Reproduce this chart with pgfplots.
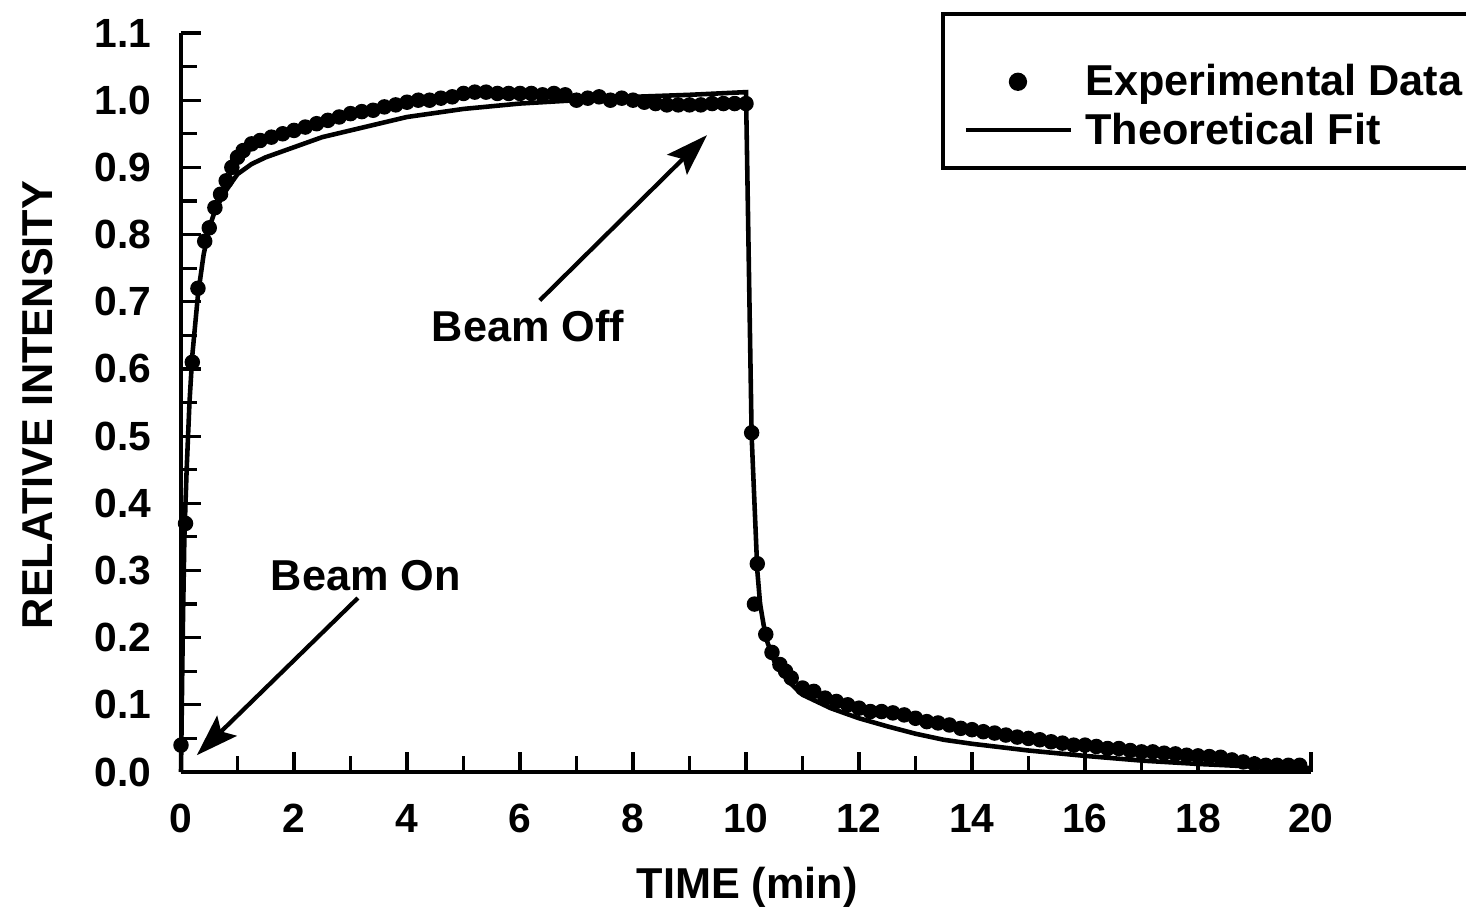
\documentclass[border=0pt]{standalone}
\usepackage{fontspec}
\setmainfont{Liberation Sans}
\usepackage{pgfplots}
\pgfplotsset{compat=1.18}
\usetikzlibrary{arrows.meta}
\newcommand{\lblfont}{\fontsize{12.3}{14}\selectfont\bfseries}
\newcommand{\tckfont}{\fontsize{11.6}{13}\selectfont\bfseries}
\begin{document}
\begin{tikzpicture}[x=1cm,y=1cm]
\useasboundingbox (-1.81,-1.39) rectangle (12.85,7.72);
\begin{axis}[
  at={(0,0)}, anchor=south west,
  scale only axis, width=11.3cm, height=7.39cm,
  xmin=0, xmax=20, ymin=0, ymax=1.1,
  clip=false,
  axis x line*=bottom, axis y line*=left,
  axis line style={line width=1.2pt},
  xtick={0,2,4,6,8,10,12,14,16,18,20},
  xticklabels={0,2,4,6,8,10,12,14,16,18,20},
  minor xtick={1,3,5,7,9,11,13,15,17,19},
  ytick={0,0.1,0.2,0.3,0.4,0.5,0.6,0.7,0.8,0.9,1.0,1.1},
  yticklabels={0.0,0.1,0.2,0.3,0.4,0.5,0.6,0.7,0.8,0.9,1.0,1.1},
  minor ytick={0.05,0.15,0.25,0.35,0.45,0.55,0.65,0.75,0.85,0.95,1.05},
  tick align=inside,
  major tick length=0.2cm, minor tick length=0.16cm,
  tick style={line width=0.9pt, black},
  /pgf/number format/assume math mode=true,
  xticklabel style={font=\tckfont, yshift=-0.2cm},
  yticklabel style={font=\tckfont, xshift=-0.17cm},
  xlabel={TIME (min)},
  ylabel={RELATIVE INTENSITY},
  every axis x label/.style={at={(axis description cs:0.501,-0.1556)}, anchor=center, font=\lblfont},
  every axis y label/.style={at={(axis description cs:-0.1265,0.4966)}, anchor=center, rotate=90, font=\lblfont},
  legend style={draw=none, fill=none, at={(axis description cs:0.692,0.9635)}, anchor=north west,
    inner sep=0pt, row sep=0.06cm, font=\lblfont,
    nodes={inner xsep=0.12cm, inner ysep=0pt, text height=10pt, text depth=2pt}},
  legend cell align=left,
]
\addplot[black, only marks, mark=*, mark size=2pt,
  legend image code/.code={\path[draw=none,fill=none] (0cm,0cm) rectangle (1.05cm,0.01cm); \fill[black] (0.52cm,0cm) circle (2.4pt);}]
coordinates {
(0.0,0.04) (0.08,0.37) (0.2,0.61) (0.3,0.72) (0.42,0.79) (0.5,0.81) (0.6,0.84) (0.7,0.86)
(0.8,0.88) (0.9,0.90) (1.0,0.915) (1.1,0.925) (1.25,0.935) (1.4,0.94) (1.6,0.945) (1.8,0.95)
(2.0,0.955) (2.2,0.96) (2.4,0.965) (2.6,0.97) (2.8,0.975) (3.0,0.98) (3.2,0.983) (3.4,0.985)
(3.6,0.99) (3.8,0.993) (4.0,0.997) (4.2,1.0) (4.4,1.0) (4.6,1.003) (4.8,1.005) (5.0,1.01)
(5.2,1.012) (5.4,1.012) (5.6,1.01) (5.8,1.01) (6.0,1.01) (6.2,1.01) (6.4,1.008) (6.6,1.01)
(6.8,1.008) (7.0,1.0) (7.2,1.003) (7.4,1.005) (7.6,1.0) (7.8,1.003) (8.0,1.0) (8.2,0.997)
(8.4,0.995) (8.6,0.993) (8.8,0.993) (9.0,0.993) (9.2,0.993) (9.4,0.995) (9.6,0.995) (9.8,0.995)
(10.0,0.995) (10.1,0.505) (10.2,0.31) (10.15,0.25) (10.35,0.205) (10.46,0.178) (10.6,0.16)
(10.7,0.15) (10.8,0.14) (11.0,0.125) (11.2,0.12) (11.4,0.11) (11.6,0.105) (11.8,0.1) (12.0,0.095)
(12.2,0.09) (12.4,0.09) (12.6,0.088) (12.8,0.085) (13.0,0.08) (13.2,0.075) (13.4,0.073)
(13.6,0.07) (13.8,0.065) (14.0,0.063) (14.2,0.06) (14.4,0.058) (14.6,0.055) (14.8,0.052)
(15.0,0.05) (15.2,0.048) (15.4,0.045) (15.6,0.043) (15.8,0.04) (16.0,0.04) (16.2,0.038)
(16.4,0.035) (16.6,0.035) (16.8,0.032) (17.0,0.03) (17.2,0.03) (17.4,0.028) (17.6,0.027)
(17.8,0.025) (18.0,0.024) (18.2,0.023) (18.4,0.022) (18.6,0.018) (18.8,0.015) (19.0,0.012)
(19.2,0.01) (19.4,0.01) (19.6,0.01) (19.8,0.01)
};
\addlegendentry{Experimental Data}
\addplot[black, line width=1.3pt, no marks,
  legend image code/.code={\draw[line width=1.3pt] (0cm,0cm) -- (1.05cm,0cm);}]
coordinates {
(0,0) (0.03,0.2) (0.06,0.35) (0.1,0.45) (0.15,0.55) (0.2,0.62) (0.3,0.71) (0.4,0.77)
(0.5,0.81) (0.6,0.835) (0.75,0.86) (1.0,0.89) (1.25,0.905) (1.5,0.915) (2,0.93) (2.5,0.945)
(3,0.955) (3.5,0.965) (4,0.975) (5,0.987) (6,0.995) (7,1.0) (8,1.005) (9,1.008) (10,1.012)
(10.1,0.5) (10.2,0.3) (10.25,0.25) (10.35,0.2) (10.5,0.165) (10.75,0.135) (11,0.115)
(11.5,0.095) (12,0.08) (12.5,0.068) (13,0.057) (13.5,0.048) (14,0.042) (15,0.032)
(16,0.024) (17,0.017) (18,0.012) (19,0.008) (20,0.006)
};
\addlegendentry{Theoretical Fit}
\draw[line width=1.2pt] (axis description cs:0.6743,0.8173) rectangle (axis description cs:1.1496,1.0257);
\node[font=\lblfont] at (axis cs:3.27,0.293) {Beam On};
\node[font=\lblfont] at (axis cs:6.14,0.664) {Beam Off};
\draw[line width=1.2pt, -{Stealth[length=0.42cm,width=0.28cm,inset=0.08cm]}] (axis cs:3.13,0.259) -- (axis cs:0.28,0.025);
\draw[line width=1.2pt, -{Stealth[length=0.42cm,width=0.28cm,inset=0.08cm]}] (axis cs:6.35,0.702) -- (axis cs:9.31,0.948);
\end{axis}
\end{tikzpicture}
\end{document}
